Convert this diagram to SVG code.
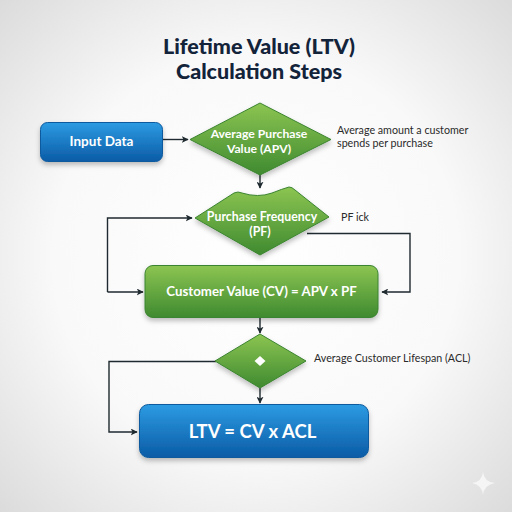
<svg xmlns="http://www.w3.org/2000/svg" width="512" height="512" viewBox="0 0 512 512">
<defs>
<radialGradient id="bg" cx="50%" cy="50%" r="72%"><stop offset="0" stop-color="#ffffff"/><stop offset="0.55" stop-color="#f9f9f9"/><stop offset="1" stop-color="#dadada"/></radialGradient>
<linearGradient id="blue" x1="0" y1="0" x2="0" y2="1"><stop offset="0" stop-color="#2c9be2"/><stop offset="1" stop-color="#0b5ba6"/></linearGradient>
<linearGradient id="green" x1="0" y1="0" x2="0" y2="1"><stop offset="0" stop-color="#8cc552"/><stop offset="1" stop-color="#3f8a30"/></linearGradient>
<filter id="sh" x="-20%" y="-20%" width="140%" height="150%"><feDropShadow dx="0" dy="3" stdDeviation="2.5" flood-color="#000" flood-opacity="0.25"/></filter>
<marker id="arr" viewBox="0 0 10 10" refX="9" refY="5" markerWidth="7" markerHeight="7" markerUnits="userSpaceOnUse" orient="auto"><path d="M0 0L10 5L0 10L2.5 5Z" fill="#1f2a30"/></marker>
</defs>
<style>
.t{font-family:Lato,"Liberation Sans",sans-serif}
.title{font-size:21.5px;font-weight:900;fill:#13233a;text-anchor:middle}
.w{fill:#fff;font-weight:700;text-anchor:middle}
.n{font-size:10.7px;fill:#2a2a2a}
.b{stroke:#0c5a9e;stroke-width:1}
.g{stroke:#3b8430;stroke-width:1}
.c{fill:none;stroke:#1f2a30;stroke-width:1.4;marker-end:url(#arr)}
</style>
<rect width="512" height="512" fill="url(#bg)"/>
<g id="title"><text class="t title" x="259" y="54">Lifetime Value (LTV)</text><text class="t title" x="259" y="79">Calculation Steps</text></g>
<g id="connectors">
<path class="c" d="M163 139.500H188"/>
<path class="c" d="M260 174V188"/>
<path class="c" d="M107.500 292V218H192"/>
<path class="c" d="M107.500 292H143"/>
<path class="c" d="M307 233.500H410V292H382"/>
<path class="c" d="M260 318V333"/>
<path class="c" d="M216 361.500H109V432H137"/>
<path class="c" d="M260 388V403"/>
</g>
<g id="input-data"><rect class="b" x="40.500" y="122.500" width="122" height="39" rx="7" fill="url(#blue)" filter="url(#sh)"/><text class="t w" x="101.500" y="146" font-size="13.500">Input Data</text></g>
<g id="apv"><path class="g" d="M260 103L331 139.500L260 175L190 139.500Z" fill="url(#green)" filter="url(#sh)"/><text class="t w" x="259" y="138" font-size="12.200">Average Purchase</text><text class="t w" x="259" y="152.500" font-size="12.200">Value (APV)</text></g>
<text class="t n" x="337" y="134">Average amount a customer</text>
<text class="t n" x="337" y="147">spends per purchase</text>
<g id="pf"><path class="g" d="M195 218L234 193Q238 191 242 193Q258 198 272 193Q282 189 289 187Q292 187 295 190L329 217L260 255Z" fill="url(#green)" filter="url(#sh)"/><text class="t w" x="262" y="221" font-size="12.300">Purchase Frequency</text><text class="t w" x="260" y="236" font-size="12.300">(PF)</text></g>
<text class="t n" x="341" y="221">PF ick</text>
<g id="cv"><rect class="g" x="145" y="265.500" width="233" height="52" rx="8" fill="url(#green)" filter="url(#sh)"/><text class="t w" x="261.500" y="296" font-size="13.300">Customer Value (CV) = APV x PF</text></g>
<g id="acl"><path class="g" d="M260 334L306 361L260 388L215 361Z" fill="url(#green)" filter="url(#sh)"/><path d="M260 356L265.500 361L260 366L254.500 361Z" fill="#fff"/></g>
<text class="t n" x="314" y="362">Average Customer Lifespan (ACL)</text>
<g id="ltv"><rect class="b" x="139.500" y="404.500" width="229" height="53" rx="9" fill="url(#blue)" filter="url(#sh)"/><text class="t w" x="252.500" y="438" font-size="18.500">LTV = CV x ACL</text></g>
<path d="M483 472Q484 482 495 483Q484 485 483 495Q482 485 472 483Q482 482 483 472Z" fill="#fff" opacity="0.65"/>
</svg>
